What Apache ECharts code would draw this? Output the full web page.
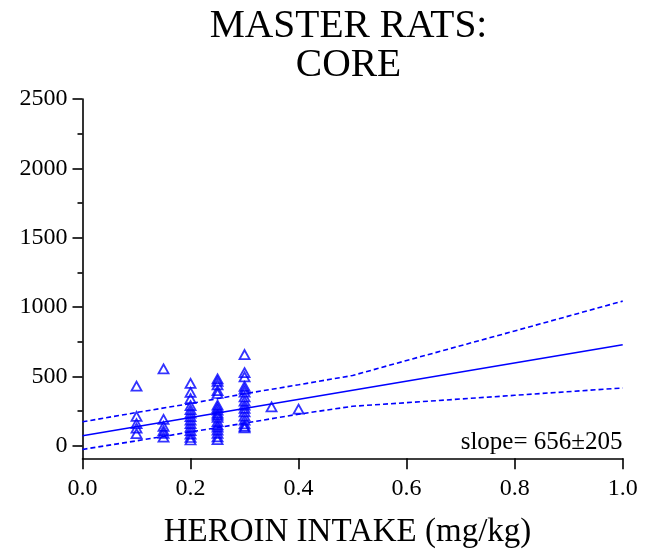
<!DOCTYPE html>
<html>
<head>
<meta charset="utf-8">
<script src="https://cdn.jsdelivr.net/npm/echarts@6/dist/echarts.min.js"></script>
<style>
html,body{margin:0;padding:0;background:#fff;}
#chart{width:645px;height:557px;}
</style>
</head>
<body>
<div id="chart"></div>
<script>
// ---- data ----
const titleLines = ['MASTER RATS:', 'CORE'];
const xAxisTitle = 'HEROIN INTAKE (mg/kg)';
const slopeText = 'slope= 656\u00B1205';

const xTickValues = [0.0, 0.2, 0.4, 0.6, 0.8, 1.0];
const yLabelValues = [0, 500, 1000, 1500, 2000, 2500];
const yMinorTickValues = [250, 750, 1250, 1750, 2250];

const dose010 = [430, 212, 160, 128, 88];
const dose015 = [555, 190, 140, 110, 90, 62];
const dose020 = [450, 385, 340, 290, 260, 235, 210, 185, 160, 135, 110, 85, 60, 42];
const dose025 = [482, 465, 440, 398, 377, 293, 276, 257, 236, 221, 204, 175, 150, 135, 113, 89, 65, 44];
const dose030 = [658, 528, 497, 428, 408, 387, 352, 322, 293, 270, 245, 214, 185, 158, 140, 130];
const dose035 = [281];
const dose040 = [264];

const fitX = [0.0, 1.0];
const fitY = [72, 728];
const bandX = [0.0, 0.1, 0.2, 0.3, 0.4, 0.5, 0.6, 0.8, 1.0];
const upperBand = [173, 240, 305, 375, 440, 507, 615, 828, 1043];
const lowerBand = [-26, 36, 100, 163, 228, 285, 311, 364, 417];

// ---- build ----
const groups = [[0.10, dose010], [0.15, dose015], [0.20, dose020], [0.25, dose025], [0.30, dose030], [0.35, dose035], [0.40, dose040]];
const points = [];
groups.forEach(g => g[1].forEach(v => points.push([g[0], v])));
const pair = (xs, ys) => xs.map((x, i) => [x, ys[i]]);

const BLUE = '#0000ff';
const FONT = "'Liberation Serif', 'Times New Roman', serif";
const Y_MIN = -90, Y_MAX = 2500;

const chart = echarts.init(document.getElementById('chart'), null, {renderer: 'canvas'});
chart.setOption({
  backgroundColor: '#ffffff',
  animation: false,
  grid: {left: 82.5, right: 22.3, top: 99, bottom: 98.7, containLabel: false},
  xAxis: {
    type: 'value', min: 0, max: 1, interval: 0.2,
    axisLine: {onZero: false, lineStyle: {color: '#000', width: 1.6}},
    axisTick: {show: true, length: 11, inside: false, lineStyle: {color: '#000', width: 1.6}},
    axisLabel: {margin: 18, color: '#000', fontFamily: FONT, fontSize: 24,
      formatter: v => Number(v).toFixed(1),
      customValues: xTickValues},
    splitLine: {show: false}
  },
  yAxis: [{
    type: 'value', min: Y_MIN, max: Y_MAX,
    axisLine: {show: true, onZero: false, lineStyle: {color: '#000', width: 1.6}},
    axisTick: {show: true, length: 10, customValues: yLabelValues, lineStyle: {color: '#000', width: 1.6}},
    axisLabel: {margin: 15, color: '#000', fontFamily: FONT, fontSize: 24, customValues: yLabelValues,
      formatter: v => String(v)},
    splitLine: {show: false}
  }, {
    type: 'value', min: Y_MIN, max: Y_MAX, position: 'left',
    axisLine: {show: false},
    axisTick: {show: true, length: 5, customValues: yMinorTickValues, lineStyle: {color: '#000', width: 1.6}},
    axisLabel: {show: false, customValues: yMinorTickValues},
    splitLine: {show: false}
  }],
  graphic: [
    {type: 'text', x: 348.5, y: 27, style: {text: titleLines[0], font: "39.5px " + FONT, fill: '#000', textAlign: 'center', textVerticalAlign: 'middle'}},
    {type: 'text', x: 348.5, y: 66, style: {text: titleLines[1], font: "39.5px " + FONT, fill: '#000', textAlign: 'center', textVerticalAlign: 'middle'}},
    {type: 'text', x: 347.5, y: 532, style: {text: xAxisTitle, font: "33px " + FONT, fill: '#000', textAlign: 'center', textVerticalAlign: 'middle'}},
    {type: 'text', x: 622.5, y: 442, style: {text: slopeText, font: "25px " + FONT, fill: '#000', textAlign: 'right', textVerticalAlign: 'middle'}}
  ],
  series: [
    {type: 'scatter', data: points, symbol: 'triangle', symbolSize: [10, 9],
      itemStyle: {color: 'rgba(0,0,0,0)', borderColor: BLUE, borderWidth: 1.8}, z: 5},
    {type: 'line', data: pair(fitX, fitY), symbol: 'none', clip: false,
      lineStyle: {color: BLUE, width: 1.6}},
    {type: 'line', data: pair(bandX, upperBand), symbol: 'none', clip: false,
      lineStyle: {color: BLUE, width: 1.6, type: [5, 3]}},
    {type: 'line', data: pair(bandX, lowerBand), symbol: 'none', clip: false,
      lineStyle: {color: BLUE, width: 1.6, type: [5, 3]}}
  ]
});
</script>
</body>
</html>
